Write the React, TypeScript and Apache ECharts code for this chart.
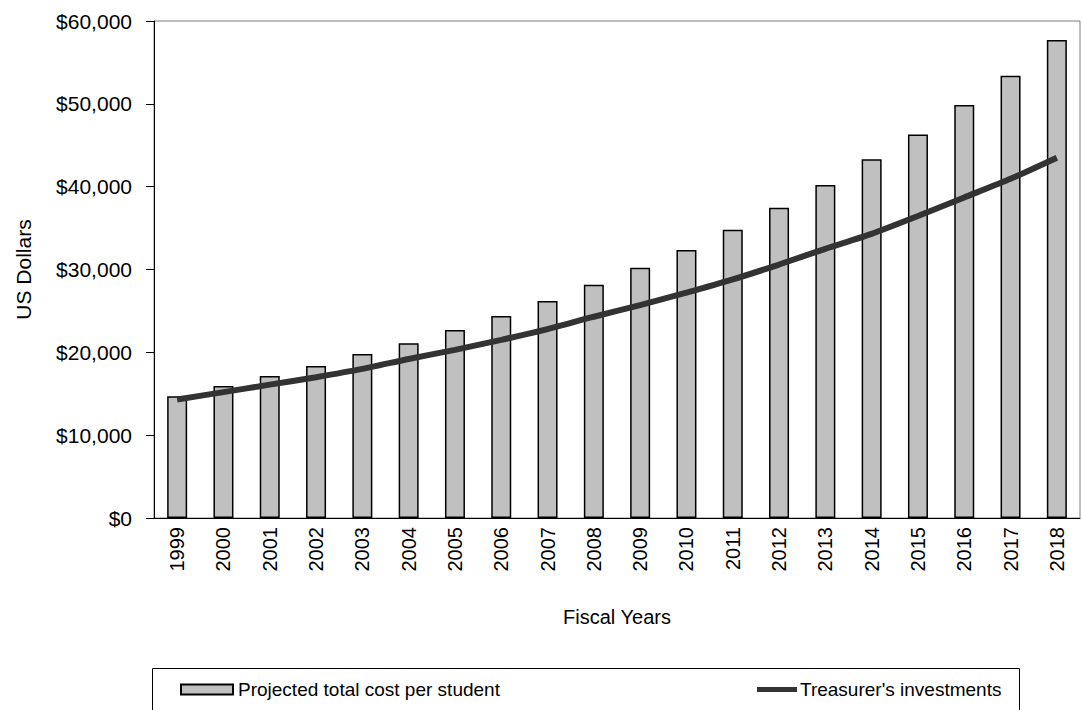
import React, { useEffect, useRef } from "react";
import * as echarts from "echarts";

const years = ["1999","2000","2001","2002","2003","2004","2005","2006","2007","2008","2009","2010","2011","2012","2013","2014","2015","2016","2017","2018"];
const projectedCost = [14700,15950,17150,18350,19800,21100,22700,24400,26200,28150,30200,32350,34800,37450,40200,43300,46300,49850,53400,57700];
const treasurerInvestments = [14300,15200,16100,17000,18000,19200,20300,21500,22800,24300,25700,27200,28800,30600,32500,34300,36450,38700,40950,43500];
const yTicks = { min: 0, max: 60000, interval: 10000 };

const FONT = "'Liberation Sans', Arial, sans-serif";

export default function App() {
  const ref = useRef<HTMLDivElement>(null);
  useEffect(() => {
    if (!ref.current) return;
    const chart = echarts.init(ref.current, null, { renderer: "svg" });
    chart.setOption({
      animation: false,
      backgroundColor: "#ffffff",
      textStyle: { fontFamily: FONT },
      grid: { left: 154, right: 2, top: 21, bottom: 192, show: true, borderColor: "#7f7f7f", borderWidth: 1 },
      xAxis: {
        type: "category",
        data: years,
        name: "Fiscal Years",
        nameLocation: "middle",
        nameGap: 89,
        nameTextStyle: { fontSize: 20, color: "#000", fontFamily: FONT },
        axisLine: { show: true, lineStyle: { color: "#000", width: 1 } },
        axisTick: { show: false },
        axisLabel: { rotate: 90, fontSize: 20, color: "#000", margin: 9, fontFamily: FONT },
      },
      yAxis: {
        type: "value",
        min: yTicks.min,
        max: yTicks.max,
        interval: yTicks.interval,
        name: "US Dollars",
        nameLocation: "middle",
        nameGap: 120,
        nameRotate: 90,
        nameTextStyle: { fontSize: 21, color: "#000", fontFamily: FONT },
        axisLine: { show: true, lineStyle: { color: "#000", width: 1 } },
        axisTick: { show: true, inside: false, length: 8, lineStyle: { color: "#000" } },
        splitLine: { show: false },
        axisLabel: {
          fontSize: 21,
          color: "#000",
          margin: 22,
          fontFamily: FONT,
          formatter: (v: number) => "$" + v.toLocaleString("en-US"),
        },
      },
      legend: [
        {
          left: 180,
          top: 680,
          padding: 0,
          itemWidth: 52,
          itemHeight: 10,
          textStyle: { fontSize: 19, color: "#000", fontFamily: FONT, padding: [0, 0, 0, 0] },
          data: [{ name: "Projected total cost per student", icon: "rect" }],
        },
        {
          left: 757,
          top: 680,
          padding: 0,
          itemWidth: 40,
          itemHeight: 5,
          textStyle: { fontSize: 19, color: "#000", fontFamily: FONT, padding: [0, 0, 0, -2] },
          data: [{ name: "Treasurer's investments", icon: "rect", itemStyle: { color: "#333333", borderWidth: 0 } }],
        },
      ],
      graphic: [
        {
          type: "rect",
          shape: { x: 152.5, y: 668.5, width: 867, height: 60 },
          style: { fill: "none", stroke: "#000", lineWidth: 1 },
          silent: true,
        },
      ],
      series: [
        {
          name: "Projected total cost per student",
          type: "bar",
          data: projectedCost,
          barWidth: 20,
          itemStyle: { color: "#c0c0c0", borderColor: "#000", borderWidth: 1.5 },
        },
        {
          name: "Treasurer's investments",
          type: "line",
          data: treasurerInvestments,
          symbol: "none",
          smooth: 0.2,
          lineStyle: { color: "#333333", width: 6 },
          itemStyle: { color: "#333333" },
        },
      ],
    });
    return () => chart.dispose();
  }, []);
  return <div ref={ref} style={{ width: 1082, height: 710, position: "absolute", left: 0, top: 0 }} />;
}
